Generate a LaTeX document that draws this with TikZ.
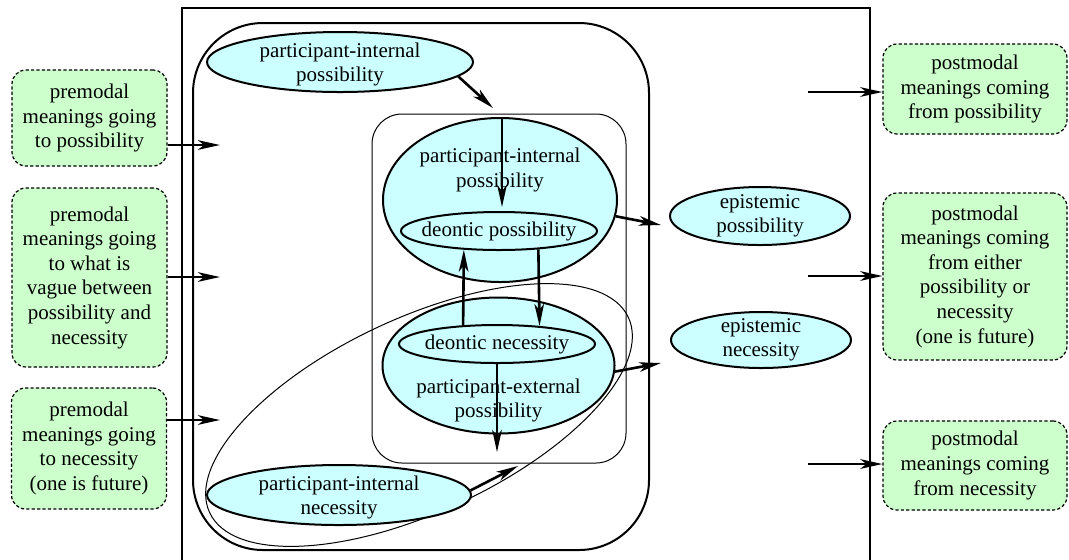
\documentclass[tikz,border=0pt]{standalone}
\usepackage{fontspec}
\setmainfont{Liberation Serif}
\usetikzlibrary{shapes.geometric}
\usetikzlibrary{arrows.meta}

\definecolor{modalcyan}{HTML}{CCFFFF}
\definecolor{meaninggreen}{HTML}{CCFFCC}
\def\diagfont{\fontsize{10.5}{12.3}\selectfont}

\begin{document}
\begin{tikzpicture}[x=0.5pt,y=-0.5pt,font=\diagfont]

\tikzstyle{boxline} = [line width=1pt]
\tikzstyle{thinline} = [line width=0.5pt]
\tikzstyle{modalnode} = [ellipse, draw, line width=1pt, fill=modalcyan, inner sep=0pt]
\tikzstyle{meaningnode} = [draw, dash pattern=on 1.6pt off 1.1pt, line width=0.6pt, rounded corners=7pt, fill=meaninggreen, align=center, inner sep=0pt]
\tikzstyle{myedgestyle} = [line width=1.3pt, -{Stealth[length=11pt,width=4.8pt,inset=3pt]}]

\clip (0,0) rectangle (1069,559);

\draw [boxline] (182,8) rectangle (870,590);
\draw [boxline, rounded corners=35pt] (193,23) rectangle (649,550);
\draw [thinline, rounded corners=15pt] (372,114) rectangle (626,463);
\draw [thinline, rotate around={25:(419,415)}] (419,415) ellipse [x radius=231, y radius=97];

\node [meaningnode, minimum width=77.5pt, minimum height=48pt] (pre1) at (89.5,118) {premodal\\meanings going\\to possibility};
\node [meaningnode, minimum width=77.5pt, minimum height=89.5pt] (pre2) at (89.5,277.5) {premodal\\meanings going\\to what is\\vague between\\possibility and\\necessity};
\node [meaningnode, minimum width=77.5pt, minimum height=60.5pt] (pre3) at (89,448.5) {premodal\\meanings going\\to necessity\\(one is future)};
\node [meaningnode, minimum width=92pt, minimum height=45pt] (post1) at (975,89) {postmodal\\meanings coming\\from possibility};
\node [meaningnode, minimum width=92pt, minimum height=83.5pt] (post2) at (975,276.5) {postmodal\\meanings coming\\from either\\possibility or\\necessity\\(one is future)};
\node [meaningnode, minimum width=92pt, minimum height=44.5pt] (post3) at (975,465.5) {postmodal\\meanings coming\\from necessity};

\node [modalnode, minimum width=133pt, minimum height=30pt, label={[align=center,yshift=-1.2pt]center:participant-internal\\possibility}] (pip) at (340,62) {};
\node [modalnode, minimum width=117pt, minimum height=82pt, label={[align=center,yshift=15pt]center:participant-internal\\possibility}] (pipb) at (500,200) {};
\node [modalnode, minimum width=98pt, minimum height=19pt, label={center:deontic possibility}] (dpos) at (499,231) {};
\node [modalnode, minimum width=116pt, minimum height=68pt, label={[align=center,yshift=-17.5pt]center:participant-external\\possibility}] (pxp) at (498.5,365.5) {};
\node [modalnode, minimum width=98pt, minimum height=19pt, label={center:deontic necessity}] (dnec) at (497,344) {};
\node [modalnode, minimum width=132pt, minimum height=30pt, label={[align=center,yshift=-1.2pt]center:participant-internal\\necessity}] (pin) at (339,495) {};
\node [modalnode, minimum width=90pt, minimum height=29pt, label={[align=center]center:epistemic\\possibility}] (eposs) at (760,216) {};
\node [modalnode, minimum width=90pt, minimum height=28pt, label={[align=center]center:epistemic\\necessity}] (enec) at (761,340) {};

\coordinate (in1) at (220,145);
\coordinate (in2) at (220,277);
\coordinate (in3) at (220,420);
\coordinate (out1) at (808,92);
\coordinate (out2) at (808,276);
\coordinate (out3) at (808,464);
\coordinate (c1) at (493,108);
\coordinate (c2) at (502,207);
\coordinate (c3) at (497,452);
\coordinate (c4) at (661,225);
\coordinate (c5) at (661,363);
\coordinate (c6) at (518,466);

\draw [myedgestyle] (pre1.east |- in1) -- (in1);
\draw [myedgestyle] (pre2.east |- in2) -- (in2);
\draw [myedgestyle] (pre3.east |- in3) -- (in3);
\draw [myedgestyle] (out1) -- (post1.west |- out1);
\draw [myedgestyle] (out2) -- (post2.west |- out2);
\draw [myedgestyle] (out3) -- (post3.west |- out3);
\draw [myedgestyle] (pip.-7) -- (c1);
\draw [myedgestyle] (pipb.north -| c2) -- (c2);
\draw [myedgestyle] (dnec.151) -- (dpos.208);
\draw [myedgestyle] (dpos.-25) -- (dnec.23);
\draw [myedgestyle] (dnec.south) -- (c3);
\draw [myedgestyle] (pipb.-8) -- (c4);
\draw [myedgestyle] (pxp.-3) -- (c5);
\draw [myedgestyle] (pin.2) -- (c6);

\end{tikzpicture}
\end{document}
